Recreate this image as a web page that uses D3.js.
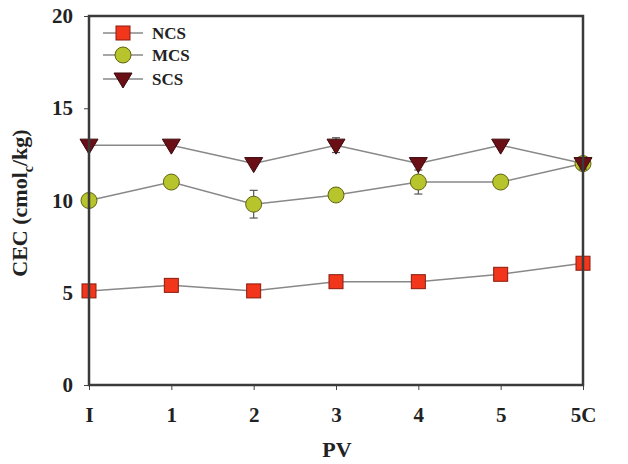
<!DOCTYPE html>
<html>
<head>
<meta charset="utf-8">
<script src="https://cdn.jsdelivr.net/npm/d3@7"></script>
<style>
  body { margin: 0; background: #fff; }
  svg text { font-family: "Liberation Serif", "DejaVu Serif", serif; font-weight: bold; fill: #222; }
</style>
</head>
<body>
<svg class="canvas" width="628" height="464"></svg>
<script>
var categories = ['I', '1', '2', '3', '4', '5', '5C'];
var yTicks = [0, 5, 10, 15, 20];

var ncs = [5.1, 5.4, 5.1, 5.6, 5.6, 6.0, 6.6];
var mcs = [10.0, 11.0, 9.8, 10.3, 11.0, 11.0, 12.0];
var scs = [13.0, 13.0, 12.0, 13.0, 12.0, 13.0, 12.0];

var ncsErr = [0, 0, 0, 0, 0, 0, 0];
var mcsErr = [0, 0, 0.75, 0, 0.65, 0, 0.3];
var scsErr = [0, 0, 0, 0.4, 0, 0, 0.3];

var svg = d3.select('.canvas');
var plotLeft = 89, plotRight = 583, plotTop = 16, plotBottom = 385;

var x = d3.scalePoint().domain(categories).range([plotLeft, plotRight]);
var y = d3.scaleLinear().domain([0, 20]).range([plotBottom, plotTop]);

var series = [
	{ name: 'NCS', values: ncs, err: ncsErr, shape: 'square', fill: '#f2361c', stroke: '#8a1a0c' },
	{ name: 'MCS', values: mcs, err: mcsErr, shape: 'circle', fill: '#b8c42c', stroke: '#5d6412' },
	{ name: 'SCS', values: scs, err: scsErr, shape: 'triangle', fill: '#6a0f16', stroke: '#3a080b' }
];

function drawMarker(g, shape, fill, stroke) {
	if (shape == 'square') {
		g.append('rect').attr('x', -7).attr('y', -7).attr('width', 14).attr('height', 14)
			.attr('fill', fill).attr('stroke', stroke).attr('stroke-width', 1);
	} else if (shape == 'circle') {
		g.append('circle').attr('r', 8)
			.attr('fill', fill).attr('stroke', stroke).attr('stroke-width', 1);
	} else {
		g.append('path').attr('d', 'M-9,-6L9,-6L0,9Z')
			.attr('fill', fill).attr('stroke', stroke).attr('stroke-width', 1);
	}
}

// axes
var xAxis = d3.axisBottom(x).tickSize(5).tickPadding(17);
var gx = svg.append('g').attr('transform', 'translate(0,' + plotBottom + ')').call(xAxis);
gx.select('.domain').remove();
gx.selectAll('line').attr('stroke', '#444');
gx.selectAll('text').attr('font-size', 21).attr('font-family', 'Liberation Serif').attr('font-weight', 'bold').attr('fill', '#222');

var yAxis = d3.axisLeft(y).tickValues(yTicks).tickSize(5).tickPadding(11);
var gy = svg.append('g').attr('transform', 'translate(' + plotLeft + ',0)').call(yAxis);
gy.select('.domain').remove();
gy.selectAll('line').attr('stroke', '#444');
gy.selectAll('text').attr('font-size', 21).attr('font-family', 'Liberation Serif').attr('font-weight', 'bold').attr('fill', '#222');

// lines, error bars, markers
var line = d3.line().x(function(d, i) { return x(categories[i]); }).y(function(d) { return y(d); });

series.forEach(function(s) {
	svg.append('path').datum(s.values).attr('d', line)
		.attr('fill', 'none').attr('stroke', '#888').attr('stroke-width', 1.5);
});

series.forEach(function(s) {
	s.values.forEach(function(v, i) {
		var e = s.err[i];
		if (!e) return;
		var cx = x(categories[i]);
		var eg = svg.append('g').attr('stroke', '#555').attr('stroke-width', 1.2);
		eg.append('line').attr('x1', cx).attr('x2', cx).attr('y1', y(v - e)).attr('y2', y(v + e));
		eg.append('line').attr('x1', cx - 4).attr('x2', cx + 4).attr('y1', y(v - e)).attr('y2', y(v - e));
		eg.append('line').attr('x1', cx - 4).attr('x2', cx + 4).attr('y1', y(v + e)).attr('y2', y(v + e));
	});
	s.values.forEach(function(v, i) {
		var g = svg.append('g').attr('transform', 'translate(' + x(categories[i]) + ',' + y(v) + ')');
		drawMarker(g, s.shape, s.fill, s.stroke);
	});
});

// frame
svg.append('rect').attr('x', plotLeft).attr('y', plotTop).attr('width', plotRight - plotLeft).attr('height', plotBottom - plotTop)
	.attr('fill', 'none').attr('stroke', '#3a3a3a').attr('stroke-width', 2.5);

// legend
var legendY = [33, 55, 79];
series.forEach(function(s, i) {
	var lg = svg.append('g').attr('transform', 'translate(123,' + legendY[i] + ')');
	lg.append('line').attr('x1', -20).attr('x2', 20).attr('stroke', '#888').attr('stroke-width', 1.5);
	drawMarker(lg, s.shape, s.fill, s.stroke);
	lg.append('text').attr('x', 29).attr('y', 6).attr('font-size', 17).text(s.name);
});

// axis titles
svg.append('text').attr('x', 337).attr('y', 457).attr('text-anchor', 'middle').attr('font-size', 22).text('PV');

var yt = svg.append('text').attr('transform', 'translate(27,' + 203 + ') rotate(-90)')
	.attr('text-anchor', 'middle').attr('font-size', 22);
yt.append('tspan').text('CEC (cmol');
yt.append('tspan').attr('font-size', 14).attr('dy', 6).text('c');
yt.append('tspan').attr('dy', -6).text('/kg)');
</script>
</body>
</html>
